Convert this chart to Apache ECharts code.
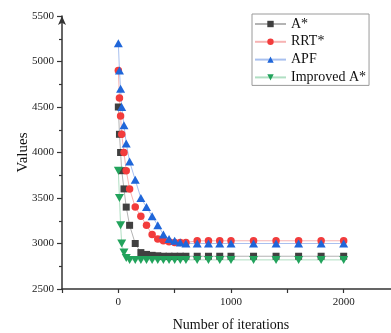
<!DOCTYPE html>
<html>
<head>
<meta charset="utf-8">
<script src="https://cdn.jsdelivr.net/npm/echarts@6/dist/echarts.min.js"></script>
<style>html,body{margin:0;padding:0;background:#fff;}#c{width:391px;height:333px;}</style>
</head>
<body>
<div id="c"></div>
<script>
var iterations = [0,10,20,30,50,70,100,150,200,250,300,350,400,450,500,550,600,700,800,900,1000,1200,1400,1600,1800,2000];
var aStar    = [4500,4200,4000,3800,3600,3400,3200,3000,2900,2880,2870,2865,2860,2860,2860,2860,2860,2860,2860,2860,2860,2860,2860,2860,2860,2860];
var rrtStar  = [4900,4600,4400,4200,4000,3800,3600,3400,3300,3200,3100,3050,3030,3020,3010,3010,3010,3030,3030,3030,3030,3030,3030,3030,3030,3030];
var apf      = [5200,4900,4700,4500,4300,4100,3900,3700,3500,3400,3300,3200,3100,3050,3030,3010,3000,3000,3000,3000,3000,3000,3000,3000,3000,3000];
var improved = [3800,3500,3200,3000,2900,2840,2820,2820,2820,2820,2820,2820,2820,2820,2820,2820,2820,2820,2820,2820,2820,2820,2820,2820,2820,2820];
var seriesNames = ['A*','RRT*','APF','Improved A*'];

function pairs(vals){ return iterations.map(function(x,i){ return [x, vals[i]]; }); }
function plain(v){ return String(v); }
function thousands(v){ return (v % 1000 === 0) ? String(v) : ''; }
var FONT = "'Liberation Serif','Times New Roman',serif";
var chart = echarts.init(document.getElementById('c'), null, {renderer:'canvas'});
chart.setOption({
  animation:false,
  backgroundColor:'#fff',
  grid:{left:62, right:-9, top:16, bottom:44, outerBoundsMode:'none', containLabel:false},
  legend:{
    orient:'vertical', left:252, top:14,
    data:seriesNames,
    borderColor:'#9a9a9a', borderWidth:1, padding:[3,3,1,2],
    itemWidth:31, itemHeight:8, itemGap:3.8,
    textStyle:{fontFamily:FONT, fontSize:14, color:'#111'}
  },
  xAxis:{
    type:'value', min:-500, max:2500, interval:500,
    name:'Number of iterations', nameLocation:'middle', nameGap:29, nameMoveOverlap:false,
    nameTextStyle:{fontFamily:FONT, fontSize:14, color:'#111'},
    axisLine:{show:true, onZero:false, lineStyle:{color:'#333', width:1.5}},
    axisTick:{show:true, length:4, lineStyle:{color:'#333', width:1.2}},
    axisLabel:{formatter:thousands, margin:8, fontFamily:FONT, fontSize:11, color:'#222'},
    splitLine:{show:false}
  },
  yAxis:{
    type:'value', min:2500, max:5500, interval:500,
    name:'Values', nameLocation:'middle', nameGap:31, nameMoveOverlap:false,
    nameTextStyle:{fontFamily:FONT, fontSize:15, color:'#111'},
    axisLine:{show:true, onZero:false, symbol:['none','arrow'], symbolSize:[6,9], lineStyle:{color:'#333', width:1.5}},
    axisTick:{show:true, length:5, lineStyle:{color:'#333', width:1.2}},
    minorTick:{show:true, splitNumber:2, length:3, lineStyle:{color:'#333', width:1.2}},
    axisLabel:{formatter:plain, margin:8, fontFamily:FONT, fontSize:11, color:'#222'},
    splitLine:{show:false}
  },
  series:[
    {name:seriesNames[0], type:'line', data:pairs(aStar), symbol:'rect', symbolSize:7,
     itemStyle:{color:'#404040'}, lineStyle:{color:'#b4b4b4', width:1}},
    {name:seriesNames[1], type:'line', data:pairs(rrtStar), symbol:'circle', symbolSize:7.5,
     itemStyle:{color:'#f23c3c'}, lineStyle:{color:'#f7b3b3', width:1}},
    {name:seriesNames[2], type:'line', data:pairs(apf), symbol:'triangle', symbolSize:[9,8],
     itemStyle:{color:'#1f66d9'}, lineStyle:{color:'#a8c0ef', width:1}},
    {name:seriesNames[3], type:'line', data:pairs(improved), symbol:'triangle', symbolRotate:180, symbolSize:[9,8],
     itemStyle:{color:'#22a35c'}, lineStyle:{color:'#b0dfc3', width:1}}
  ]
});
</script>
</body>
</html>
